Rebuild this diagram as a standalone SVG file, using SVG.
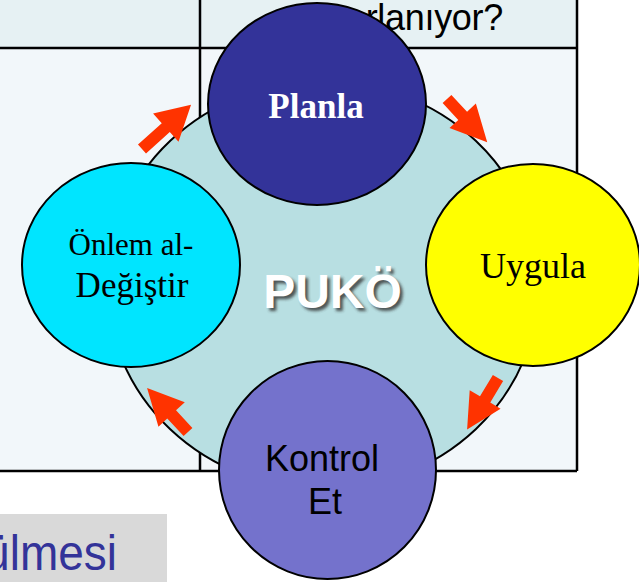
<svg xmlns="http://www.w3.org/2000/svg" width="639" height="582" viewBox="0 0 639 582">
  <defs>
    <style>
      .grid { stroke: #000; stroke-width: 2.5; fill: none; }
      .node { stroke: #000; stroke-width: 2; }
      .serif { font-family: "Liberation Serif", "Times New Roman", serif; }
      .sans { font-family: "Liberation Sans", Arial, sans-serif; }
      .flow { fill: #ff3300; }
    </style>
    <!-- soft drop shadow for the centre title -->
    <filter id="soft" x="-10%" y="-10%" width="120%" height="130%">
      <feGaussianBlur stdDeviation="1.4"/>
    </filter>
  </defs>

  <!-- table in the background -->
  <g id="table">
    <rect x="0" y="0" width="577" height="48" fill="#e6f1f3"/>
    <rect x="0" y="48" width="577" height="423" fill="#f2f7fa"/>
    <text class="sans" x="503" y="30" font-size="36" text-anchor="end" fill="#000" letter-spacing="-0.3">yararlanıyor?</text>
    <path class="grid" d="M0 48 H577 M200 0 V471 M577 0 V471 M0 471 H577"/>
  </g>

  <!-- central cycle disc -->
  <g id="cycle">
    <ellipse cx="323" cy="285" rx="216" ry="204" fill="#b8dfe2" class="node"/>
    <text class="sans" x="335.5" y="311" font-size="48" font-weight="bold" text-anchor="middle" fill="#333" opacity="0.8" filter="url(#soft)">PUKÖ</text>
    <text class="sans" x="332.5" y="308" font-size="48" font-weight="bold" text-anchor="middle" fill="#fff">PUKÖ</text>
  </g>

  <g id="planla">
    <ellipse cx="317" cy="104" rx="109" ry="101" fill="#333399" class="node"/>
    <text class="serif" x="316" y="118" font-size="35" font-weight="bold" text-anchor="middle" fill="#fff">Planla</text>
  </g>

  <g id="uygula">
    <ellipse cx="533" cy="265" rx="107" ry="101" fill="#ffff00" class="node"/>
    <text class="serif" x="533" y="278" font-size="36" text-anchor="middle" fill="#000">Uygula</text>
  </g>

  <g id="kontrol">
    <ellipse cx="327.5" cy="470" rx="108.5" ry="109" fill="#7472cc" class="node"/>
    <text class="sans" x="322" y="471" font-size="36" text-anchor="middle" fill="#000">Kontrol</text>
    <text class="sans" x="325" y="514" font-size="36" text-anchor="middle" fill="#000">Et</text>
  </g>

  <g id="onlem">
    <ellipse cx="131" cy="265" rx="109" ry="102" fill="#00e5ff" class="node"/>
    <text class="serif" x="131" y="255" font-size="31" text-anchor="middle" fill="#000">Önlem al-</text>
    <text class="serif" x="132" y="297" font-size="35" text-anchor="middle" fill="#000">Değiştir</text>
  </g>

  <!-- arrows between the steps -->
  <g id="connectors" class="flow">
    <path transform="translate(142 149) rotate(-42)" d="M0 -6 L32 -6 L32 -19 L66 0 L32 19 L32 6 L0 6 Z"/>
    <path transform="translate(447 99) rotate(47)" d="M0 -6 L23 -6 L23 -18 L59 0 L23 18 L23 6 L0 6 Z"/>
    <path transform="translate(498 378) rotate(121)" d="M0 -6 L25 -6 L25 -18 L60 0 L25 18 L25 6 L0 6 Z"/>
    <path transform="translate(188 432) rotate(227)" d="M0 -6 L24 -6 L24 -18 L60 0 L24 18 L24 6 L0 6 Z"/>
  </g>

  <!-- caption strip -->
  <g id="caption">
    <rect x="0" y="514" width="167" height="68" fill="#d9d9d9"/>
    <text class="sans" transform="translate(117 570) scale(0.92 1)" x="0" y="0" font-size="50" text-anchor="end" fill="#333399">ülmesi</text>
  </g>
</svg>
